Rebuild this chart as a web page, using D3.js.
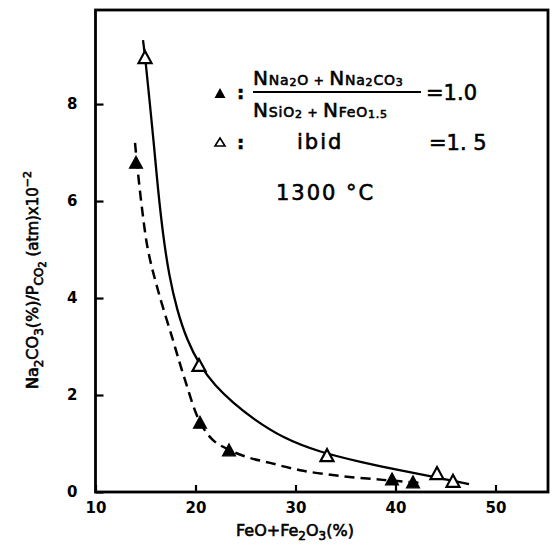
<!DOCTYPE html>
<html>
<head>
<meta charset="utf-8">
<script src="https://cdn.jsdelivr.net/npm/d3@7/dist/d3.min.js"></script>
<style>
  html, body { margin: 0; padding: 0; background: #fff; }
  svg { display: block; }
  text { font-family: "DejaVu Sans", sans-serif; fill: #000; stroke: #000; stroke-width: 0.6px; }
  .tick text { stroke: none; }
</style>
</head>
<body>
<svg id="chart" width="555" height="550"></svg>
<script>
// ---- data ----
const xTicks = [10, 20, 30, 40, 50];
const yTicks = [0, 2, 4, 6, 8];

// open triangles (ratio = 1.5)
const openX = [14.95, 20.35, 33.15, 44.15, 45.75];
const openY = [8.97, 2.62, 0.76, 0.39, 0.23];

// filled triangles (ratio = 1.0)
const filledX = [14.05, 20.45, 23.35, 39.65, 41.75];
const filledY = [6.80, 1.44, 0.87, 0.27, 0.21];

// solid fitted curve (ratio = 1.5)
const solidX = [14.75, 15.00, 15.40, 15.85, 16.25, 16.75, 17.35, 18.15, 19.15, 20.45, 21.95, 23.75, 25.75, 28.75, 32.45, 36.45, 40.75, 44.45, 47.35];
const solidY = [9.32, 8.91, 8.08, 7.15, 6.23, 5.30, 4.47, 3.75, 3.13, 2.60, 2.19, 1.84, 1.51, 1.11, 0.82, 0.62, 0.43, 0.29, 0.16];

// dashed fitted curve (ratio = 1.0)
const dashX = [13.95, 14.55, 15.25, 16.25, 17.75, 18.95, 20.45, 21.75, 23.35, 25.15, 27.45, 30.45, 34.45, 38.75, 42.45];
const dashY = [7.20, 6.02, 4.99, 4.16, 3.13, 2.31, 1.44, 1.07, 0.87, 0.72, 0.60, 0.45, 0.33, 0.25, 0.19];

// ---- drawing ----
const svg = d3.select("#chart");
const mLeft = 95.5, mRight = 548, mTop = 10, mBottom = 492;

const x = d3.scaleLinear().domain([10, 55.25]).range([mLeft, mRight]);
const y = d3.scaleLinear().domain([0, 9.94]).range([mBottom, mTop]);

// frame
svg.append("rect")
  .attr("x", mLeft).attr("y", mTop)
  .attr("width", mRight - mLeft).attr("height", mBottom - mTop)
  .attr("fill", "none").attr("stroke", "#000").attr("stroke-width", 2.8);

// x axis (ticks inward)
const xAxis = d3.axisBottom(x).tickValues(xTicks).tickSize(-7).tickPadding(10).tickFormat(d3.format("d"));
const gx = svg.append("g").attr("transform", `translate(0,${mBottom})`).call(xAxis);
gx.select(".domain").remove();
gx.selectAll(".tick line").attr("stroke", "#000").attr("stroke-width", 2.2);
gx.selectAll(".tick text")
  .attr("font-family", "DejaVu Sans").attr("font-size", 15).attr("font-weight", "bold")
  .attr("fill", "#000");

// y axis (ticks inward)
const yAxis = d3.axisLeft(y).tickValues(yTicks).tickSize(-8).tickPadding(18).tickFormat(d3.format("d"));
const gy = svg.append("g").attr("transform", `translate(${mLeft},0)`).call(yAxis);
gy.select(".domain").remove();
gy.selectAll(".tick line").attr("stroke", "#000").attr("stroke-width", 2.2);
gy.selectAll(".tick text")
  .attr("font-family", "DejaVu Sans").attr("font-size", 15).attr("font-weight", "bold")
  .attr("fill", "#000");

// curves
const solidLine = d3.line().x(d => x(d[0])).y(d => y(d[1])).curve(d3.curveBasis);
const dashLine = d3.line().x(d => x(d[0])).y(d => y(d[1])).curve(d3.curveCatmullRom.alpha(0.5));
svg.append("path")
  .attr("d", solidLine(d3.zip(solidX, solidY)))
  .attr("fill", "none").attr("stroke", "#000").attr("stroke-width", 2.3);
svg.append("path")
  .attr("d", dashLine(d3.zip(dashX, dashY)))
  .attr("fill", "none").attr("stroke", "#000").attr("stroke-width", 2.5)
  .attr("stroke-dasharray", "10,6");

// markers
const tri = (cx, cy, w, h) => `M${cx},${cy - h / 2}L${cx + w / 2},${cy + h / 2}L${cx - w / 2},${cy + h / 2}Z`;
svg.append("g").selectAll("path").data(d3.zip(filledX, filledY)).join("path")
  .attr("d", d => tri(x(d[0]), y(d[1]), 13, 12))
  .attr("fill", "#000").attr("stroke", "#000").attr("stroke-width", 1.2);
svg.append("g").selectAll("path").data(d3.zip(openX, openY)).join("path")
  .attr("d", d => tri(x(d[0]), y(d[1]), 13, 12))
  .attr("fill", "#fff").attr("stroke", "#000").attr("stroke-width", 2.2);

// legend
svg.append("path").attr("d", tri(220, 93, 11, 10)).attr("fill", "#000");
svg.append("text").attr("x", 237).attr("y", 99).attr("font-size", 18).attr("font-weight", "bold").text(":");
svg.append("path").attr("d", tri(220, 142, 10, 8)).attr("fill", "#fff").attr("stroke", "#000").attr("stroke-width", 1.6);
svg.append("text").attr("x", 237).attr("y", 149).attr("font-size", 18).attr("font-weight", "bold").text(":");

function frac(parts, xx, yy) {
  const t = svg.append("text").attr("x", xx).attr("y", yy).attr("letter-spacing", 0.8);
  parts.forEach(p => {
    const s = t.append("tspan").attr("font-size", p[1]).text(p[0]);
    if (p[2]) s.attr("dy", p[2]);
  });
  return t;
}
// numerator
frac([["N", 20], ["Na", 14], ["2", 11, 1], ["O", 14, -1], [" + ", 12], ["N", 20], ["Na", 14], ["2", 11, 1], ["CO", 14, -1], ["3", 11, 1]], 253, 85);
svg.append("line").attr("x1", 253).attr("x2", 421).attr("y1", 92).attr("y2", 92)
  .attr("stroke", "#000").attr("stroke-width", 2);
// denominator
frac([["N", 20], ["SiO", 14], ["2", 11, 1], [" + ", 12, -1], ["N", 20], ["FeO", 14], ["1.5", 11, 1]], 253, 117);

svg.append("text").attr("x", 426).attr("y", 100).attr("font-size", 21).text("=1.0");
svg.append("text").attr("x", 297).attr("y", 149).attr("font-size", 21).attr("letter-spacing", 2).text("ibid");
svg.append("text").attr("x", 429).attr("y", 150).attr("font-size", 21).text("=1. 5");
svg.append("text").attr("x", 276).attr("y", 200).attr("font-size", 21).attr("letter-spacing", 2).text("1300 °C");

// x axis title
const xt = svg.append("text").attr("x", 236).attr("y", 536).attr("font-size", 16);
xt.append("tspan").text("FeO+Fe");
xt.append("tspan").attr("font-size", 12).attr("dy", 4).text("2");
xt.append("tspan").attr("dy", -4).text("O");
xt.append("tspan").attr("font-size", 12).attr("dy", 4).text("3");
xt.append("tspan").attr("dy", -4).text("(%)");

// y axis title
const yt = svg.append("text").attr("transform", "translate(38,280) rotate(-90)")
  .attr("text-anchor", "middle").attr("font-size", 16);
yt.append("tspan").text("Na");
yt.append("tspan").attr("font-size", 12).attr("dy", 5).text("2");
yt.append("tspan").attr("dy", -5).text("CO");
yt.append("tspan").attr("font-size", 12).attr("dy", 5).text("3");
yt.append("tspan").attr("dy", -5).text("(%)/P");
yt.append("tspan").attr("font-size", 12).attr("dy", 5).text("CO");
yt.append("tspan").attr("font-size", 10).attr("dy", 3).text("2");
yt.append("tspan").attr("font-size", 15).attr("dy", -8).text(" (atm)x10");
yt.append("tspan").attr("font-size", 11).attr("dy", -7).text("−2");
</script>
</body>
</html>
